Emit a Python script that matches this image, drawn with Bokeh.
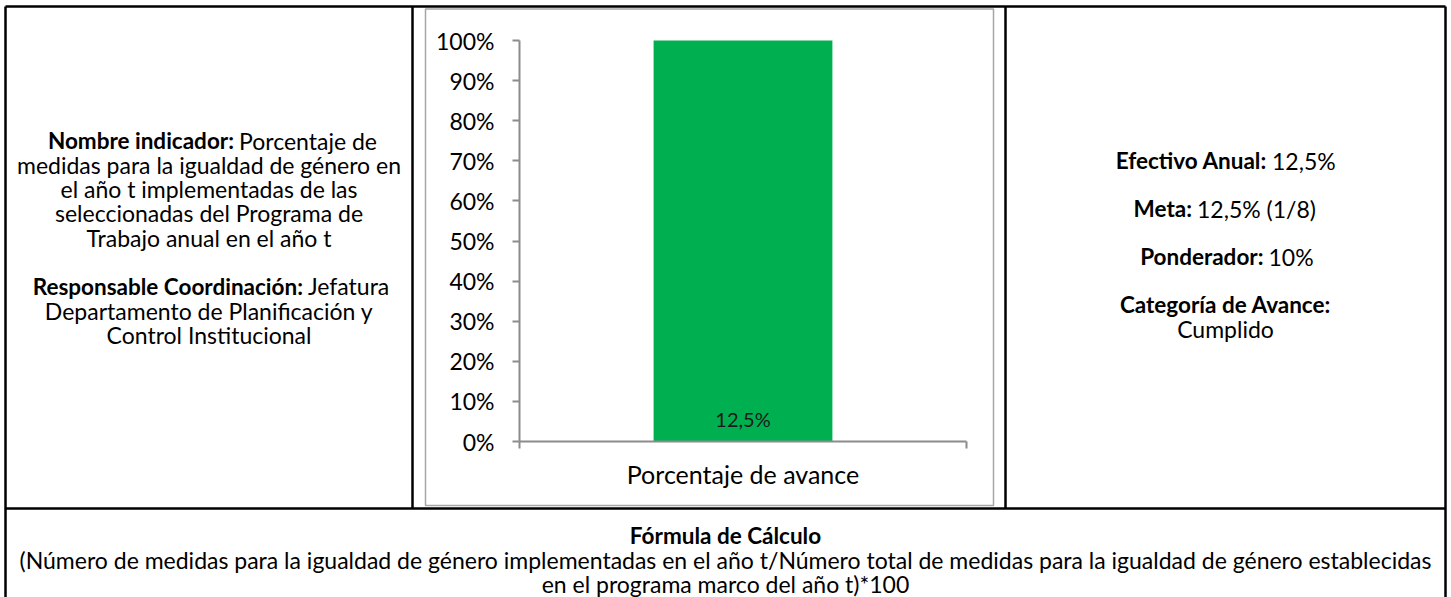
from bokeh.plotting import figure
from bokeh.models import Range1d, LinearAxis, FixedTicker, NumeralTickFormatter
from bokeh.embed import file_html
from bokeh.resources import INLINE
from bokeh.core.properties import value

# ---------------- data ----------------
categories = ["Porcentaje de avance"]
bar_values = [1.0]
bar_labels = ["12,5%"]
y_ticks = [0.0, 0.1, 0.2, 0.3, 0.4, 0.5, 0.6, 0.7, 0.8, 0.9, 1.0]

left_bold = ["Nombre indicador:", "", "", "", "", "", "Responsable Coordinación:", "", ""]
left_normal = ["Porcentaje de", "medidas para la igualdad de género en",
               "el año t implementadas de las", "seleccionadas del Programa de",
               "Trabajo anual en el año t", "", "Jefatura",
               "Departamento de Planificación y", "Control Institucional"]

right_bold = ["Efectivo Anual:", "", "Meta:", "", "Ponderador:", "", "Categoría de Avance:", ""]
right_normal = ["12,5%", "", "12,5% (1/8)", "", "10%", "", "", "Cumplido"]

formula_title = "Fórmula de Cálculo"
formula_lines = ["(Número de medidas para la igualdad de género implementadas en el año t/Número total de medidas para la igualdad de género establecidas",
                 "en el programa marco del año t)*100"]

# ---------------- layout (pixels) ----------------
W, H = 1451, 597
PL, PR, PB, PT = 519, 966, 441, 40      # plot area of the bar chart
FONT = "Lato"
FS = 23
LEFT_CX, RIGHT_CX, FULL_CX = 208.5, 1225, 725
LEFT_Y0, LEFT_LS = 140, 24.3
RIGHT_Y0, RIGHT_LS = 160, 24
FORM_Y0, FORM_LS = 535, 24
left_split = {0: 236, 6: 305}
right_split = {0: 1269, 2: 1194, 4: 1265.5}

p = figure(width=W, height=H, x_range=Range1d(0, W), y_range=Range1d(H, 0),
           output_backend="svg", toolbar_location=None, min_border=0,
           x_axis_type=None, y_axis_type=None, margin=(0, 0, 0, 0))
p.outline_line_color = None
p.background_fill_color = "white"
p.border_fill_color = "white"

# table borders
BLK = "black"
p.segment(x0=[5, 5, 1445, 412, 1005, 5], y0=[6, 6, 6, 6, 6, 508],
          x1=[1445, 5, 1445, 412, 1005, 1445], y1=[6, 600, 600, 508, 508, 508],
          line_color=BLK, line_width=2.5)
# chart area box
p.quad(left=[425], right=[993], top=[8.5], bottom=[505], fill_color=None,
       line_color="#A6A6A6", line_width=1.5)

# chart scales
ppu_y = PB - PT
ppu_x = PR - PL
p.extra_y_ranges = {"pct": Range1d(start=-(H - PB) / ppu_y, end=1 + PT / ppu_y)}
p.extra_x_ranges = {"cat": Range1d(start=-PL / ppu_x, end=(W - PL) / ppu_x)}

xs = [i + 0.5 for i in range(len(categories))]
p.vbar(x=xs, top=bar_values, bottom=0, width=0.4, x_range_name="cat", y_range_name="pct",
       fill_color="#00B050", line_color=None)
p.text(x=xs, y=[0] * len(xs), text=bar_labels, x_range_name="cat", y_range_name="pct",
       y_offset=-23, text_font=value(FONT), text_font_size="20px", text_align="center",
       text_baseline="middle", text_color="#1a1a1a")

AX = "#8C8C8C"
yaxis = LinearAxis(x_range_name="cat", y_range_name="pct", fixed_location=0, bounds=(0, 1),
                   ticker=FixedTicker(ticks=y_ticks), formatter=NumeralTickFormatter(format="0%"))
yaxis.axis_line_color = AX
yaxis.axis_line_width = 2
yaxis.major_tick_line_color = AX
yaxis.major_tick_line_width = 2
yaxis.major_tick_in = 0
yaxis.major_tick_out = 7
yaxis.minor_tick_line_color = None
yaxis.major_label_standoff = 18
yaxis.major_label_text_font = FONT
yaxis.major_label_text_font_size = "23px"
yaxis.major_label_text_color = "black"
p.add_layout(yaxis, "left")

xaxis = LinearAxis(x_range_name="cat", y_range_name="pct", fixed_location=0, bounds=(0, 1),
                   ticker=FixedTicker(ticks=[0, len(categories)]))
xaxis.major_label_overrides = {0: "", len(categories): ""}
xaxis.axis_line_color = AX
xaxis.axis_line_width = 2
xaxis.major_tick_line_color = AX
xaxis.major_tick_line_width = 2
xaxis.major_tick_in = 0
xaxis.major_tick_out = 7
xaxis.minor_tick_line_color = None
xaxis.major_label_text_font_size = "1px"
xaxis.axis_label = categories[0]
xaxis.axis_label_text_font = FONT
xaxis.axis_label_text_font_size = "25px"
xaxis.axis_label_text_font_style = "normal"
xaxis.axis_label_text_color = "black"
xaxis.axis_label_standoff = 10
p.add_layout(xaxis, "below")


def put(x, y, txt, bold=False, align="center", size=FS):
    if not txt:
        return
    p.text(x=[x], y=[y], text=[txt], text_font=value(FONT), text_font_size=f"{size}px",
           text_font_style="bold" if bold else "normal", text_align=align,
           text_baseline="middle", text_color="black")


def column(bolds, normals, cx, y0, ls, splits):
    for i, (b, n) in enumerate(zip(bolds, normals)):
        y = y0 + i * ls
        if b and n:
            s = splits[i]
            put(s - 2.5, y, b, bold=True, align="right", size=FS - 0.5)
            put(s + 2.5, y, n, align="left")
        elif b:
            put(cx, y, b, bold=True, size=FS - 0.5)
        elif n:
            put(cx, y, n)


column(left_bold, left_normal, LEFT_CX, LEFT_Y0, LEFT_LS, left_split)
column(right_bold, right_normal, RIGHT_CX, RIGHT_Y0, RIGHT_LS, right_split)

put(FULL_CX, FORM_Y0, formula_title, bold=True, size=FS - 0.5)
for i, ln in enumerate(formula_lines):
    put(FULL_CX, FORM_Y0 + (i + 1) * FORM_LS, ln)

open("out.html", "w").write(file_html(p, INLINE))
